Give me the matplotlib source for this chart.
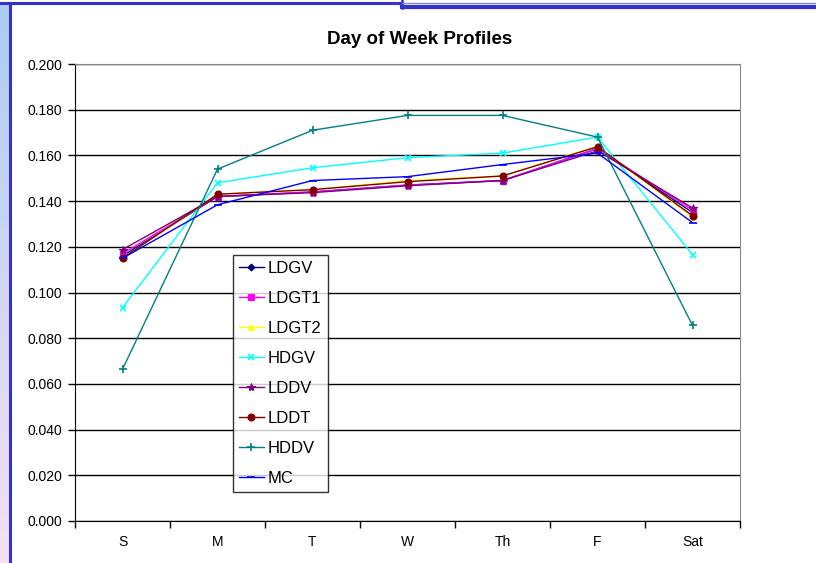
import matplotlib
matplotlib.use("Agg")
import matplotlib.pyplot as plt
import numpy as np
from matplotlib.lines import Line2D

days = ["S", "M", "T", "W", "Th", "F", "Sat"]
ldgv  = [0.116, 0.142, 0.144, 0.147, 0.149, 0.163, 0.135]
ldgt1 = [0.117, 0.142, 0.144, 0.147, 0.149, 0.163, 0.136]
ldgt2 = [0.115, 0.143, 0.145, 0.149, 0.151, 0.164, 0.133]
hdgv  = [0.0934, 0.148, 0.1546, 0.159, 0.161, 0.168, 0.1166]
lddv  = [0.1188, 0.142, 0.1437, 0.1467, 0.149, 0.162, 0.137]
lddt  = [0.115, 0.143, 0.145, 0.1485, 0.151, 0.1638, 0.1336]
hddv  = [0.0664, 0.154, 0.171, 0.1775, 0.1775, 0.168, 0.0856]
mc    = [0.115, 0.1384, 0.149, 0.1507, 0.156, 0.161, 0.1306]

series = [
    ("LDGV", ldgv, "#000080", "D", 3.5),
    ("LDGT1", ldgt1, "#FF00FF", "s", 4),
    ("LDGT2", ldgt2, "#FFFF00", "^", 4.5),
    ("HDGV", hdgv, "#00FFFF", "x", 5),
    ("LDDV", lddv, "#800080", "*", 6),
    ("LDDT", lddt, "#800000", "o", 5),
    ("HDDV", hddv, "#008080", "+", 6),
    ("MC", mc, "#0000FF", "_", 6),
]

plt.rcParams['font.family'] = ['Liberation Sans', 'DejaVu Sans']
W, H = 816, 563
fig = plt.figure(figsize=(W/100, H/100), dpi=100)

# frame decoration
grad = np.linspace(0, 1, 200).reshape(-1, 1)
c_top = np.array([0.68, 0.80, 0.95])
c_bot = np.array([0.96, 0.88, 0.96])
img = c_top[None, None, :] * (1 - grad[:, :, None]) + c_bot[None, None, :] * grad[:, :, None]
axbg = fig.add_axes([0, 0, 8.5/W, 1 - 4/H])
axbg.imshow(img, aspect='auto', extent=[0, 1, 0, 1])
axbg.set_axis_off()
fig.add_artist(Line2D([9.8/W, 9.8/W], [0, 1 - 4/H], color="#3333CC", lw=2.2, transform=fig.transFigure))
fig.add_artist(Line2D([0, 402/W], [1 - 3/H, 1 - 3/H], color="#3333CC", lw=2.2, transform=fig.transFigure))
fig.add_artist(Line2D([402/W, 402/W], [1, 1 - 8/H], color="#3333CC", lw=1.8, transform=fig.transFigure))
fig.add_artist(Line2D([402/W, 1], [1 - 3/H, 1 - 3/H], color="#8888DD", lw=1, transform=fig.transFigure))
fig.add_artist(Line2D([402/W, 1], [1 - 6.5/H, 1 - 6.5/H], color="#3333CC", lw=3, transform=fig.transFigure))

ax = fig.add_axes([75/W, (H-521)/H, 665/W, 457/H])
x = np.arange(len(days))
for name, vals, col, mk, ms in series:
    ax.plot(x, vals, color=col, marker=mk, markersize=ms, lw=1, label=name,
            markeredgewidth=1.2 if mk in ("x", "+", "_") else 0.8)

ax.set_xlim(-0.5, 6.5)
ax.set_ylim(0, 0.2)
yt = np.arange(0, 0.2001, 0.02)
ax.set_yticks(yt)
ax.set_yticklabels([f"{v:.3f}" for v in yt], fontsize=10)
ax.yaxis.grid(True, color="black", lw=1)
ax.set_axisbelow(True)
ax.set_xticks(np.arange(-0.5, 7, 1))
ax.set_xticklabels([])
ax.set_xticks(x, minor=True)
ax.set_xticklabels(days, minor=True, fontsize=10)
ax.tick_params(axis='x', which='minor', length=0, pad=10)
ax.tick_params(axis='x', which='major', length=5, direction='out', width=1)
ax.tick_params(axis='y', length=5, direction='out', width=1, pad=4)
for s in ["top", "right"]:
    ax.spines[s].set_color("#888888")
ax.spines["left"].set_color("black")
ax.spines["bottom"].set_color("black")

fig.text(420/W, 1 - 40/H, "Day of Week Profiles", ha="center", va="center",
         fontsize=13.5, fontweight="bold")

leg = ax.legend(loc="upper left", bbox_to_anchor=((233-75)/665, (521-255)/457),
                fontsize=12, frameon=True, fancybox=False,
                borderaxespad=0, handlelength=1.5, handletextpad=0.25,
                labelspacing=0.9, borderpad=0.35)
leg.get_frame().set_edgecolor("black")
leg.get_frame().set_linewidth(1)

fig.savefig("out.png", dpi=100)
